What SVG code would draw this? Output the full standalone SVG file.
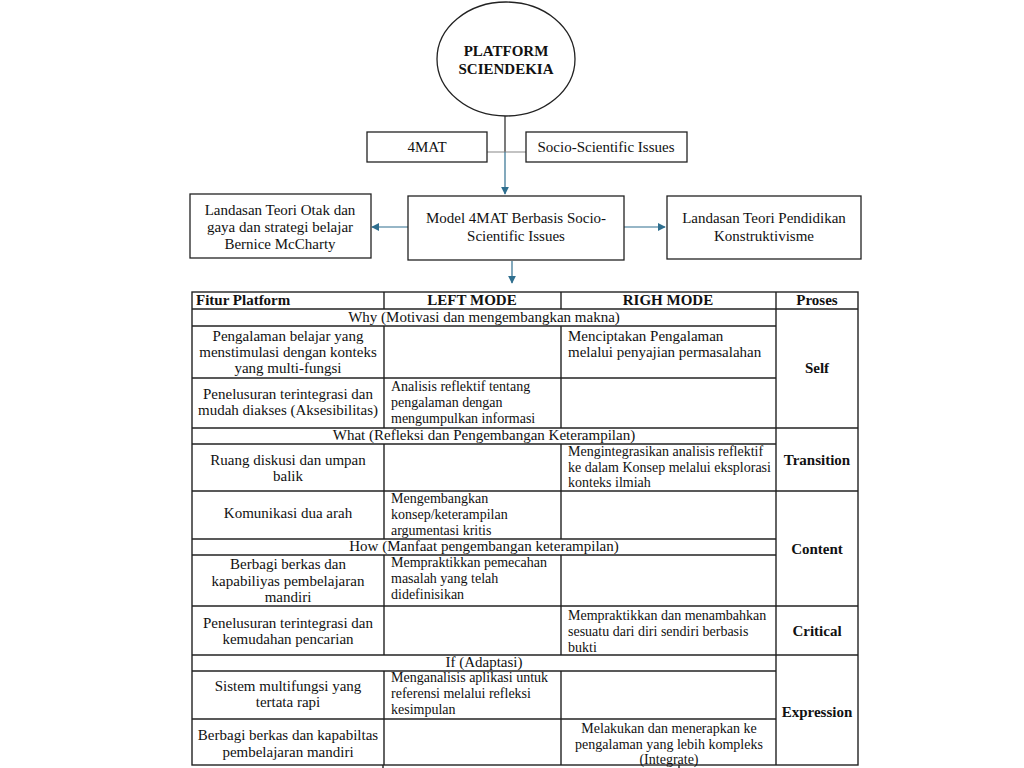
<svg xmlns="http://www.w3.org/2000/svg" width="1024" height="768" viewBox="0 0 1024 768">
<style>
text{font-family:"Liberation Serif","Times New Roman",serif;font-size:15px;fill:#111}
.b{font-weight:bold}
.c{text-anchor:middle}
.s{font-size:14px}
.box{fill:#fff;stroke:#222;stroke-width:1.3}
.tl{stroke:#222;stroke-width:1.4;fill:none}
.bl{stroke:#2f6f8f;stroke-width:1.2;fill:none}
</style>
<defs>
<marker id="ah" viewBox="0 0 10 10" refX="9" refY="5" markerWidth="8" markerHeight="8" markerUnits="userSpaceOnUse" orient="auto">
<path d="M0,0 L10,5 L0,10 z" fill="#2f6f8f"/>
</marker>
</defs>
<rect width="1024" height="768" fill="#fff"/>
<g id="connectors">
<line x1="505" y1="116" x2="505" y2="152" stroke="#222" stroke-width="1.2"/>
<line x1="487" y1="152" x2="526" y2="152" stroke="#888" stroke-width="1.2"/>
<line class="bl" x1="505" y1="152" x2="505" y2="194" marker-end="url(#ah)"/>
<line class="bl" x1="408" y1="227" x2="372" y2="227" marker-end="url(#ah)"/>
<line class="bl" x1="624" y1="227" x2="665" y2="227" marker-end="url(#ah)"/>
<line class="bl" x1="512" y1="261" x2="512" y2="283" marker-end="url(#ah)"/>
</g>
<g id="platform">
<ellipse cx="506" cy="59" rx="69" ry="57" fill="#fff" stroke="#222" stroke-width="1.3"/>
<text class="b c" x="506" y="56">PLATFORM</text>
<text class="b c" x="506" y="74">SCIENDEKIA</text>
</g>
<g id="fourmat">
<rect class="box" x="367" y="132" width="120" height="30"/>
<text class="c" x="427" y="152">4MAT</text>
</g>
<g id="ssi">
<rect class="box" x="526" y="132" width="161" height="30"/>
<text class="c" x="606" y="152">Socio-Scientific Issues</text>
</g>
<g id="landasan-otak">
<rect class="box" x="190" y="194" width="181" height="64"/>
<text class="c" x="280" y="215">Landasan Teori Otak dan</text>
<text class="c" x="280" y="232">gaya dan strategi belajar</text>
<text class="c" x="280" y="249">Bernice McCharty</text>
</g>
<g id="model">
<rect class="box" x="408" y="196" width="216" height="64"/>
<text class="c" x="516" y="223">Model 4MAT Berbasis Socio-</text>
<text class="c" x="516" y="241">Scientific Issues</text>
</g>
<g id="landasan-konstruktivisme">
<rect class="box" x="667" y="196" width="194" height="63"/>
<text class="c" x="764" y="223">Landasan Teori Pendidikan</text>
<text class="c" x="764" y="241">Konstruktivisme</text>
</g>
<g id="table">
<rect class="tl" x="192" y="292" width="666" height="473"/>
<line class="tl" x1="192" y1="309" x2="858" y2="309"/>
<line class="tl" x1="776" y1="292" x2="776" y2="765"/>
<line class="tl" x1="384" y1="292" x2="384" y2="309"/>
<line class="tl" x1="561" y1="292" x2="561" y2="309"/>
<line class="tl" x1="192" y1="326" x2="776" y2="326"/>
<line class="tl" x1="192" y1="378" x2="776" y2="378"/>
<line class="tl" x1="192" y1="428" x2="858" y2="428"/>
<line class="tl" x1="192" y1="444" x2="776" y2="444"/>
<line class="tl" x1="192" y1="491" x2="858" y2="491"/>
<line class="tl" x1="192" y1="539" x2="776" y2="539"/>
<line class="tl" x1="192" y1="555" x2="776" y2="555"/>
<line class="tl" x1="192" y1="606" x2="858" y2="606"/>
<line class="tl" x1="192" y1="655" x2="858" y2="655"/>
<line class="tl" x1="192" y1="671" x2="776" y2="671"/>
<line class="tl" x1="192" y1="719" x2="776" y2="719"/>
<line class="tl" x1="384" y1="326" x2="384" y2="428"/>
<line class="tl" x1="561" y1="326" x2="561" y2="428"/>
<line class="tl" x1="384" y1="444" x2="384" y2="539"/>
<line class="tl" x1="561" y1="444" x2="561" y2="539"/>
<line class="tl" x1="384" y1="555" x2="384" y2="655"/>
<line class="tl" x1="561" y1="555" x2="561" y2="655"/>
<line class="tl" x1="384" y1="671" x2="384" y2="765"/>
<line class="tl" x1="561" y1="671" x2="561" y2="765"/>
<line class="tl" x1="383" y1="765" x2="383" y2="768"/>
<line class="tl" x1="679" y1="765" x2="679" y2="768"/>

<text class="b" x="196" y="305">Fitur Platform</text>
<text class="b c" x="472" y="305">LEFT MODE</text>
<text class="b c" x="668" y="305">RIGH MODE</text>
<text class="b c" x="817" y="305">Proses</text>

<text class="c" x="484" y="322">Why (Motivasi dan mengembangkan makna)</text>
<text class="c" x="288" y="341">Pengalaman belajar yang</text>
<text class="c" x="288" y="357">menstimulasi dengan konteks</text>
<text class="c" x="288" y="373">yang multi-fungsi</text>
<text x="568" y="341">Menciptakan Pengalaman</text>
<text x="568" y="357">melalui penyajian permasalahan</text>
<text class="c" x="288" y="399">Penelusuran terintegrasi dan</text>
<text class="c" x="288" y="415">mudah diakses (Aksesibilitas)</text>
<text class="s" x="391" y="391">Analisis reflektif tentang</text>
<text class="s" x="391" y="407">pengalaman dengan</text>
<text class="s" x="391" y="423">mengumpulkan informasi</text>
<text class="b c" x="817" y="373">Self</text>

<text class="c" x="484" y="440">What (Refleksi dan Pengembangan Keterampilan)</text>
<text class="c" x="288" y="465">Ruang diskusi dan umpan</text>
<text class="c" x="288" y="481">balik</text>
<text class="s" x="568" y="456">Mengintegrasikan analisis reflektif</text>
<text class="s" x="568" y="472">ke dalam Konsep melalui eksplorasi</text>
<text class="s" x="568" y="487">konteks ilmiah</text>
<text class="b c" x="817" y="465">Transition</text>

<text class="c" x="288" y="518">Komunikasi dua arah</text>
<text class="s" x="391" y="503">Mengembangkan</text>
<text class="s" x="391" y="519">konsep/keterampilan</text>
<text class="s" x="391" y="535">argumentasi kritis</text>

<text class="c" x="484" y="551">How (Manfaat pengembangan keterampilan)</text>
<text class="b c" x="817" y="554">Content</text>
<text class="c" x="288" y="569">Berbagi berkas dan</text>
<text class="c" x="288" y="586">kapabiliyas pembelajaran</text>
<text class="c" x="288" y="602">mandiri</text>
<text class="s" x="391" y="567">Mempraktikkan pemecahan</text>
<text class="s" x="391" y="583">masalah yang telah</text>
<text class="s" x="391" y="599">didefinisikan</text>

<text class="c" x="288" y="628">Penelusuran terintegrasi dan</text>
<text class="c" x="288" y="644">kemudahan pencarian</text>
<text class="s" x="568" y="620">Mempraktikkan dan menambahkan</text>
<text class="s" x="568" y="636">sesuatu dari diri sendiri berbasis</text>
<text class="s" x="568" y="652">bukti</text>
<text class="b c" x="817" y="636">Critical</text>

<text class="c" x="484" y="667">If (Adaptasi)</text>
<text class="c" x="288" y="691">Sistem multifungsi yang</text>
<text class="c" x="288" y="707">tertata rapi</text>
<text class="s" x="391" y="682">Menganalisis aplikasi untuk</text>
<text class="s" x="391" y="698">referensi melalui refleksi</text>
<text class="s" x="391" y="714">kesimpulan</text>
<text class="b c" x="817" y="717">Expression</text>

<text class="c" x="288" y="740">Berbagi berkas dan kapabiltas</text>
<text class="c" x="288" y="757">pembelajaran mandiri</text>
<text class="s c" x="669" y="733">Melakukan dan menerapkan ke</text>
<text class="s c" x="669" y="749">pengalaman yang lebih kompleks</text>
<text class="s c" x="669" y="764">(Integrate)</text>
</g>
</svg>
